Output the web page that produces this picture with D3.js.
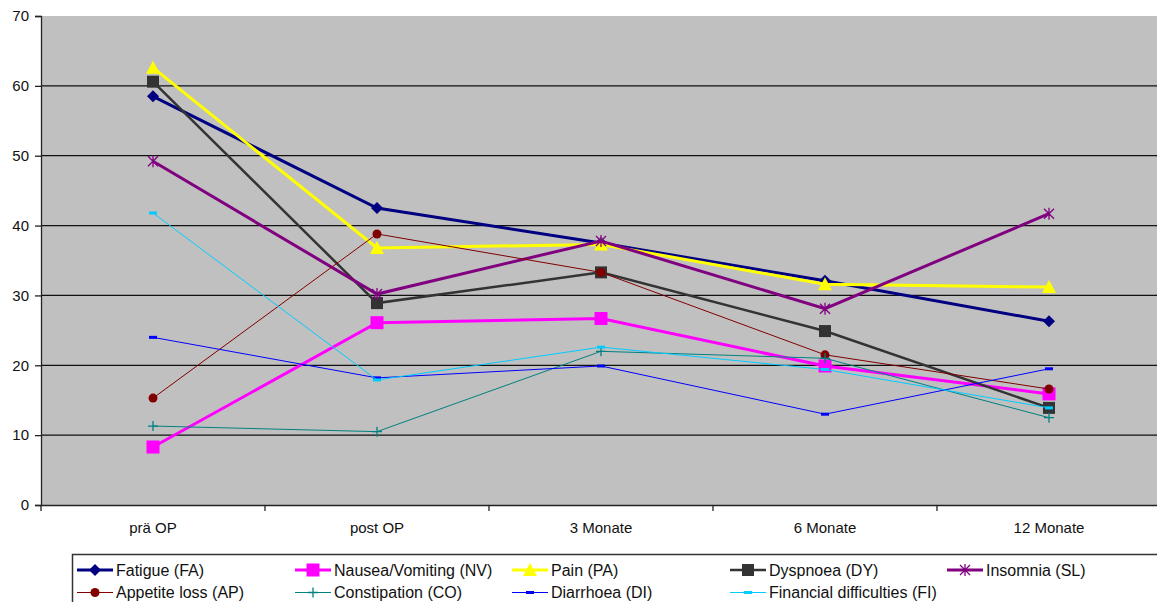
<!DOCTYPE html>
<html>
<head>
<meta charset="utf-8">
<script src="https://cdn.jsdelivr.net/npm/d3@7"></script>
<style>
  html, body { margin: 0; padding: 0; background: #fff; }
  svg { display: block; font-family: "Liberation Sans", Arial, sans-serif; }
</style>
</head>
<body>
<svg id="chart" width="1157" height="602"></svg>
<script>
// Time points of the follow-up
const categories = ["prä OP", "post OP", "3 Monate", "6 Monate", "12 Monate"];

// Symptom scale means per time point
const fatigue      = [58.5, 42.5, 37.5, 32.1, 26.3];
const nausea       = [8.3, 26.1, 26.7, 19.9, 15.9];
const pain         = [62.6, 36.8, 37.3, 31.6, 31.2];
const dyspnoea     = [60.6, 28.9, 33.3, 24.9, 13.9];
const insomnia     = [49.2, 30.2, 37.8, 28.1, 41.7];
const appetiteLoss = [15.3, 38.8, 33.3, 21.5, 16.6];
const constipation = [11.3, 10.5, 22.0, 21.0, 12.5];
const diarrhoea    = [24.0, 18.2, 19.9, 13.0, 19.5];
const financial    = [41.8, 17.9, 22.6, 19.4, 13.9];

const yTicks = [0, 10, 20, 30, 40, 50, 60, 70];

const series = [
  { name: "Fatigue (FA)",               values: fatigue,      color: "#000080", width: 3,   marker: "diamond" },
  { name: "Nausea/Vomiting (NV)",       values: nausea,       color: "#FF00FF", width: 3,   marker: "square" },
  { name: "Pain (PA)",                  values: pain,         color: "#FFFF00", width: 3,   marker: "triangle" },
  { name: "Dyspnoea (DY)",              values: dyspnoea,     color: "#333333", width: 2.5, marker: "squareDark" },
  { name: "Insomnia (SL)",              values: insomnia,     color: "#800080", width: 3,   marker: "star" },
  { name: "Appetite loss (AP)",         values: appetiteLoss, color: "#800000", width: 1,   marker: "circle" },
  { name: "Constipation (CO)",          values: constipation, color: "#008080", width: 1,   marker: "plus" },
  { name: "Diarrhoea (DI)",             values: diarrhoea,    color: "#0000FF", width: 1,   marker: "dash" },
  { name: "Financial difficulties (FI)",values: financial,    color: "#00CCFF", width: 1,   marker: "dash" }
];

const svg = d3.select("#chart");
const plot = { left: 41, right: 1161, top: 16, bottom: 505 };

const x = d3.scaleBand().domain(categories).range([plot.left, plot.right]);
const y = d3.scaleLinear().domain([0, 70]).range([plot.bottom, plot.top]);
const cx = c => x(c) + x.bandwidth() / 2;

// Plot area background
svg.append("rect")
  .attr("x", plot.left).attr("y", plot.top)
  .attr("width", plot.right - plot.left).attr("height", plot.bottom - plot.top)
  .attr("fill", "#C0C0C0");

// Horizontal gridlines
svg.append("g").selectAll("line")
  .data(yTicks.filter(t => t > 0 && t < 70))
  .join("line")
  .attr("x1", plot.left).attr("x2", plot.right)
  .attr("y1", d => y(d)).attr("y2", d => y(d))
  .attr("stroke", "#111").attr("stroke-width", 1.3);

// Y axis
const yAxis = svg.append("g")
  .attr("transform", `translate(${plot.left},0)`)
  .call(d3.axisLeft(y).tickValues(yTicks).tickSize(6).tickPadding(6));
yAxis.select(".domain").attr("stroke", "#222").attr("stroke-width", 1.3);
yAxis.selectAll(".tick line").attr("stroke", "#222").attr("stroke-width", 1.3);
yAxis.selectAll(".tick text").attr("fill", "#111").style("font-size", "15px")
  .style("font-family", "'Liberation Sans', Arial, sans-serif");

// X axis: labels centred in each band, tick marks on band edges
const xAxis = svg.append("g")
  .attr("transform", `translate(0,${plot.bottom})`)
  .call(d3.axisBottom(x).tickSize(0).tickPadding(17));
xAxis.select(".domain").attr("stroke", "#222").attr("stroke-width", 1.5);
xAxis.selectAll(".tick text").attr("fill", "#111").style("font-size", "15px")
  .style("font-family", "'Liberation Sans', Arial, sans-serif");
xAxis.selectAll("line.edge")
  .data(categories.map(c => x(c)).concat([plot.right]))
  .join("line")
  .attr("class", "edge")
  .attr("x1", d => d).attr("x2", d => d)
  .attr("y1", 0).attr("y2", 6)
  .attr("stroke", "#222").attr("stroke-width", 1.3);

// Marker drawing
function drawMarker(g, type, color, px, py) {
  switch (type) {
    case "diamond":
      g.append("path").attr("d", `M${px},${py - 6}L${px + 6},${py}L${px},${py + 6}L${px - 6},${py}Z`)
        .attr("fill", color);
      break;
    case "square":
      g.append("rect").attr("x", px - 6.5).attr("y", py - 6.5).attr("width", 13).attr("height", 13)
        .attr("fill", color);
      break;
    case "squareDark":
      g.append("rect").attr("x", px - 6).attr("y", py - 6).attr("width", 12).attr("height", 12)
        .attr("fill", color);
      break;
    case "triangle":
      g.append("path").attr("d", `M${px},${py - 7}L${px + 7},${py + 6}L${px - 7},${py + 6}Z`)
        .attr("fill", color);
      break;
    case "star":
      g.append("path")
        .attr("d", `M${px - 5},${py - 5}L${px + 5},${py + 5}M${px - 5},${py + 5}L${px + 5},${py - 5}M${px},${py - 6}L${px},${py + 6}`)
        .attr("stroke", color).attr("stroke-width", 1.3).attr("fill", "none");
      break;
    case "circle":
      g.append("circle").attr("cx", px).attr("cy", py).attr("r", 4.5).attr("fill", color);
      break;
    case "plus":
      g.append("path").attr("d", `M${px - 5},${py}L${px + 5},${py}M${px},${py - 5}L${px},${py + 5}`)
        .attr("stroke", color).attr("stroke-width", 1.3).attr("fill", "none");
      break;
    case "dash":
      g.append("rect").attr("x", px - 4).attr("y", py - 1.5).attr("width", 8).attr("height", 3)
        .attr("fill", color);
      break;
  }
}

// Series lines and markers
const line = d3.line().x((d, i) => cx(categories[i])).y(d => y(d));
const seriesLayer = svg.append("g");
series.forEach(s => {
  const g = seriesLayer.append("g");
  g.append("path")
    .attr("d", line(s.values))
    .attr("fill", "none")
    .attr("stroke", s.color)
    .attr("stroke-width", s.width)
    .attr("stroke-linejoin", "miter");
  s.values.forEach((v, i) => drawMarker(g, s.marker, s.color, cx(categories[i]), y(v)));
});

// Legend
const legend = svg.append("g");
legend.append("rect")
  .attr("x", 72.5).attr("y", 554.5).attr("width", 1100).attr("height", 60)
  .attr("fill", "#fff").attr("stroke", "#333").attr("stroke-width", 1.5);

const colX = [116, 334, 551, 769, 986];
const rowY = [570, 592.5];
series.forEach((s, i) => {
  const col = i < 5 ? i : i - 5;
  const row = i < 5 ? 0 : 1;
  const tx = colX[col];
  const ty = rowY[row];
  const g = legend.append("g");
  g.append("line")
    .attr("x1", tx - 39).attr("x2", tx - 3)
    .attr("y1", ty).attr("y2", ty)
    .attr("stroke", s.color).attr("stroke-width", s.width);
  drawMarker(g, s.marker, s.color, tx - 21, ty);
  g.append("text")
    .attr("x", tx).attr("y", ty)
    .attr("dy", "0.36em")
    .attr("fill", "#111")
    .style("font-size", "16px")
    .text(s.name);
});
</script>
</body>
</html>
